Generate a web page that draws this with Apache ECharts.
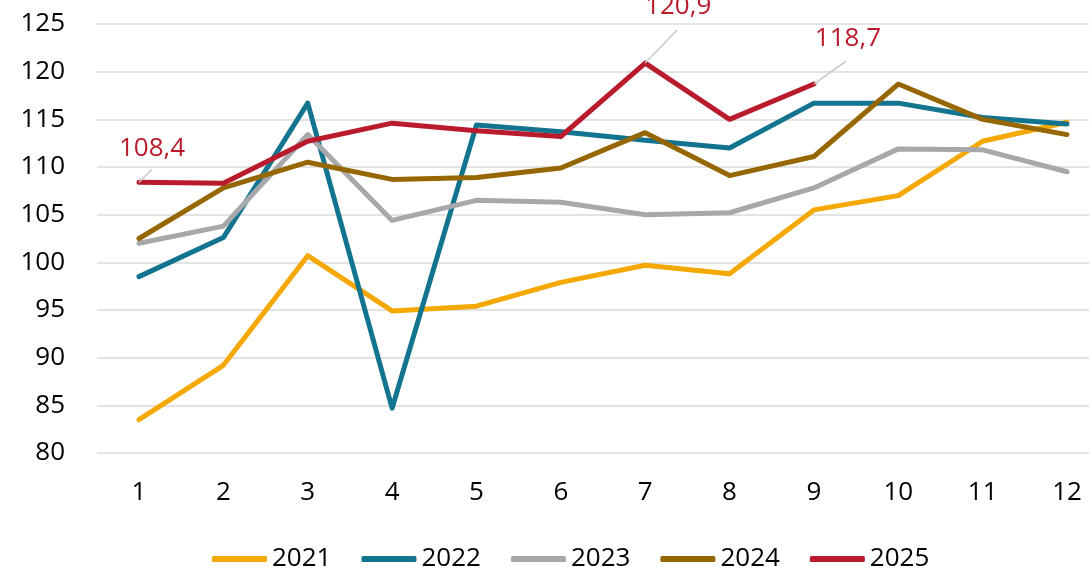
<!DOCTYPE html>
<html>
<head>
<meta charset="utf-8">
<script src="https://cdn.jsdelivr.net/npm/echarts@6/dist/echarts.min.js"></script>
<style>
  html, body { margin: 0; padding: 0; background: #fff; }
  #main { width: 1089px; height: 570px; }
</style>
</head>
<body>
<div id="main"></div>
<script>
  // months
  var months = ['1', '2', '3', '4', '5', '6', '7', '8', '9', '10', '11', '12'];
  var yTicks = [80, 125, 5]; // min, max, step

  var v2021 = [83.5, 89.2, 100.7, 94.9, 95.4, 97.9, 99.7, 98.8, 105.5, 107.0, 112.7, 114.7];
  var v2022 = [98.5, 102.6, 116.7, 84.7, 114.4, 113.7, 112.8, 112.0, 116.7, 116.7, 115.2, 114.5];
  var v2023 = [102.0, 103.8, 113.4, 104.4, 106.5, 106.3, 105.0, 105.2, 107.8, 111.9, 111.8, 109.5];
  var v2024 = [102.5, 107.8, 110.5, 108.7, 108.9, 109.9, 113.6, 109.1, 111.1, 118.7, 115.0, 113.4];
  var v2025 = [108.4, 108.3, 112.7, 114.6, 113.8, 113.2, 120.9, 115.0, 118.7];

  // points of 2025 that carry a value label
  var labelled = [0, 6, 8];
  // per label: leader end offset and text centre offset from the point (px)
  var leadOff = [[13, -13], [32, -33], [32, -23]];
  var textOff = [[13, -34], [33, -56], [34, -45]];

  var font = '"Open Sans", "Noto Sans", sans-serif';

  function line(name, data, color) {
    return {
      name: name,
      type: 'line',
      xAxisIndex: 1,
      yAxisIndex: 1,
      data: data,
      symbol: 'none',
      smooth: false,
      lineStyle: { color: color, width: 5, cap: 'round', join: 'round' },
      itemStyle: { color: color }
    };
  }

  var chart = echarts.init(document.getElementById('main'));
  chart.setOption({
    backgroundColor: '#ffffff',
    animation: false,
    textStyle: { fontFamily: font },
    legend: {
      left: 207,
      top: 541,
      itemWidth: 55,
      itemHeight: 6,
      itemGap: 30,
      icon: 'roundRect',
      textStyle: { fontSize: 26, color: '#000', fontFamily: font },
      data: ['2021', '2022', '2023', '2024', '2025']
    },
    grid: [
      // gridlines + value labels, spanning the full plot width
      { left: 97, right: 0, top: 24, height: 429 },
      // data area: first and last month sit half a step inside
      { left: 139, right: 22, top: 24, height: 429 }
    ],
    xAxis: [
      { type: 'value', gridIndex: 0, show: false, min: 0, max: 1 },
      {
        type: 'category',
        gridIndex: 1,
        data: months,
        boundaryGap: false,
        axisLine: { show: false },
        axisTick: { show: false },
        axisLabel: { color: '#000', fontSize: 26, fontFamily: font, margin: 27 }
      }
    ],
    yAxis: [
      {
        type: 'value',
        gridIndex: 0,
        min: yTicks[0],
        max: yTicks[1],
        interval: yTicks[2],
        axisLine: { show: false },
        axisTick: { show: false },
        axisLabel: { color: '#000', fontSize: 26, fontFamily: font, margin: 32 },
        splitLine: { lineStyle: { color: '#E3E3E3', width: 2 } }
      },
      {
        type: 'value',
        gridIndex: 1,
        min: yTicks[0],
        max: yTicks[1],
        interval: yTicks[2],
        show: false,
        splitLine: { show: false }
      }
    ],
    series: [
      line('2021', v2021, '#F5A800'),
      line('2022', v2022, '#13748F'),
      line('2023', v2023, '#A6A8AB'),
      line('2024', v2024, '#966700'),
      line('2025', v2025, '#BA1B2C'),
      {
        // value labels with leader lines for 2025
        type: 'custom',
        xAxisIndex: 1,
        yAxisIndex: 1,
        z: 10,
        clip: false,
        data: labelled.map(function (i) { return [i, v2025[i]]; }),
        renderItem: function (params, api) {
          var k = params.dataIndex;
          var p = api.coord([api.value(0), api.value(1)]);
          return {
            type: 'group',
            children: [
              {
                type: 'line',
                shape: { x1: p[0], y1: p[1], x2: p[0] + leadOff[k][0], y2: p[1] + leadOff[k][1] },
                style: { stroke: '#C8C8C8', lineWidth: 1.5 }
              },
              {
                type: 'text',
                x: p[0] + textOff[k][0],
                y: p[1] + textOff[k][1],
                style: {
                  text: String(api.value(1)).replace('.', ','),
                  fill: '#BA1B2C',
                  font: '26px ' + font,
                  align: 'center',
                  verticalAlign: 'middle'
                }
              }
            ]
          };
        }
      }
    ]
  });
</script>
</body>
</html>
